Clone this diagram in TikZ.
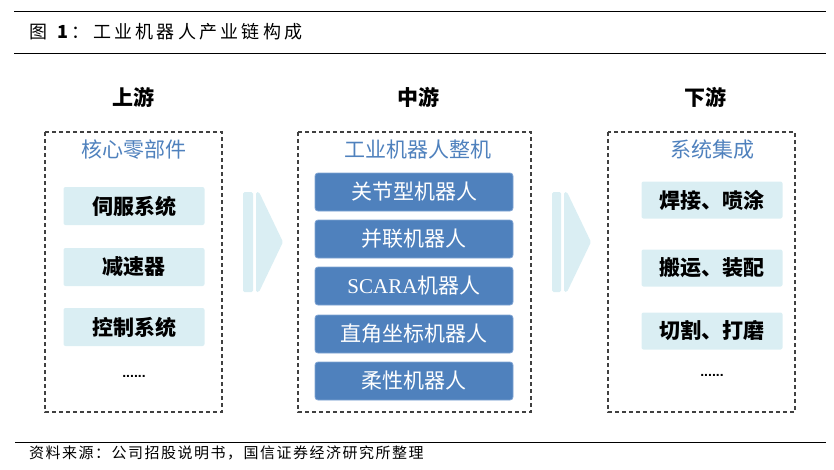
\documentclass[tikz,border=0pt]{standalone}
\usepackage{fontspec}
\setmainfont{Liberation Sans}
\newfontfamily\cjk{Noto Sans CJK SC}
\newfontfamily\cjkt{Noto Sans CJK SC}[LetterSpace=18]
\newfontfamily\cjkf{Noto Sans CJK SC}[LetterSpace=10]
\newfontfamily\serifs{Liberation Serif}
\definecolor{titleblue}{HTML}{4F81BD}
\definecolor{lightfill}{HTML}{DAEEF3}
\definecolor{darkfill}{HTML}{4F81BD}
\definecolor{darkedge}{HTML}{7FA3D3}
\definecolor{dashgray}{HTML}{404040}
\tikzset{
  rule/.style={line width=1pt, black},
  groupbox/.style={draw=dashgray, line width=1.4pt, dash pattern=on 4pt off 3pt},
  colhead/.style={font=\cjk\fontsize{21}{21}\selectfont\bfseries, inner sep=0pt},
  grouptitle/.style={font=\cjk\fontsize{21}{21}\selectfont, text=titleblue, inner sep=0pt},
  lightbox/.style={fill=lightfill, rounded corners=2pt, font=\cjk\fontsize{21}{21}\selectfont\bfseries, text=black, inner sep=0pt},
  darkbox/.style={fill=darkfill, draw=darkedge, line width=0.8pt, rounded corners=3pt, font=\cjk\fontsize{21}{21}\selectfont, text=white, inner sep=0pt},
  dots/.style={font=\fontsize{14}{14}\selectfont\bfseries, inner sep=0pt},
  arrowpart/.style={fill=lightfill, draw=none, rounded corners=1.5pt},
}
\begin{document}
\begin{tikzpicture}[x=1pt, y=-1pt]
\useasboundingbox (0,0) rectangle (834,469);
% header and footer rules
\coordinate (tl1) at (14,11); \coordinate (tr1) at (826,11);
\coordinate (tl2) at (14,53); \coordinate (tr2) at (826,53);
\coordinate (fl) at (15,442); \coordinate (fr) at (826,442);
\draw[rule] (tl1) -- (tr1);
\draw[rule] (tl2) -- (tr2);
\draw[rule] (fl) -- (fr);
\node[anchor=west, inner sep=0pt, font=\cjkt\fontsize{18}{18}\selectfont] (title) at (29,32) {图 \textbf{1}：工业机器人产业链构成};
\node[anchor=west, inner sep=0pt, font=\cjkf\fontsize{15}{15}\selectfont] (source) at (29,453) {资料来源：公司招股说明书，国信证券经济研究所整理};

% column headers
\node[colhead] (h1) at (133,97) {上游};
\node[colhead] (h2) at (418,97) {中游};
\node[colhead] (h3) at (705,97) {下游};

% dashed group boxes
\draw[groupbox] (45,132) rectangle (222,412);
\draw[groupbox] (298,132) rectangle (531,412);
\draw[groupbox] (608,132) rectangle (795,412);

% group titles
\node[grouptitle] (g1) at (134,150) {核心零部件};
\node[grouptitle] (g2) at (418,150) {工业机器人整机};
\node[grouptitle] (g3) at (712,150) {系统集成};

% upstream
\node[lightbox, minimum width=141pt, minimum height=38pt] (u1) at (134,206) {伺服系统};
\node[lightbox, minimum width=141pt, minimum height=38pt] (u2) at (134,267) {减速器};
\node[lightbox, minimum width=141pt, minimum height=38pt] (u3) at (134,327) {控制系统};
\node[dots] (u4) at (134,376) {......};

% midstream
\node[darkbox, minimum width=198pt, minimum height=38pt] (m1) at (414,192) {关节型机器人};
\node[darkbox, minimum width=198pt, minimum height=38pt] (m2) at (414,239) {并联机器人};
\node[darkbox, minimum width=198pt, minimum height=38pt] (m3) at (414,286) {{\serifs SCARA}机器人};
\node[darkbox, minimum width=198pt, minimum height=38pt] (m4) at (414,334) {直角坐标机器人};
\node[darkbox, minimum width=198pt, minimum height=38pt] (m5) at (414,381) {柔性机器人};

% downstream
\node[lightbox, minimum width=141pt, minimum height=37pt] (d1) at (712,200) {焊接、喷涂};
\node[lightbox, minimum width=141pt, minimum height=37pt] (d2) at (712,268) {搬运、装配};
\node[lightbox, minimum width=141pt, minimum height=37pt] (d3) at (712,331) {切割、打磨};
\node[dots] (d4) at (712,375) {......};

% arrows
\fill[arrowpart] (243,192) rectangle (253,292);
\fill[arrowpart] (256,192) -- (259,192) -- (283,242) -- (259,292) -- (256,292) -- cycle;
\fill[arrowpart] (552,192) rectangle (561,292);
\fill[arrowpart] (564,192) -- (567,192) -- (591,242) -- (567,292) -- (564,292) -- cycle;
\end{tikzpicture}
\end{document}
